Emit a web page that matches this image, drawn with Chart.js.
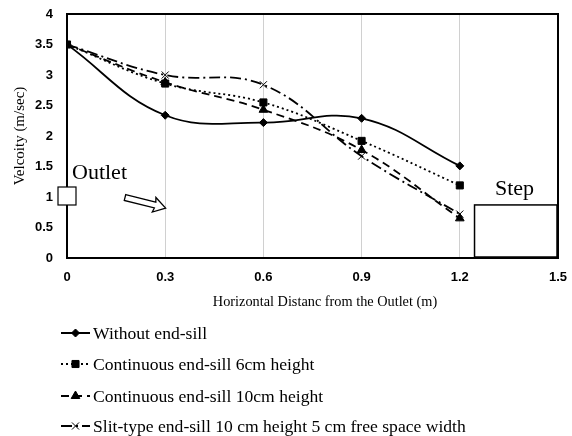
<!DOCTYPE html>
<html>
<head>
<meta charset="utf-8">
<script src="https://cdn.jsdelivr.net/npm/chart.js@4/dist/chart.umd.min.js"></script>
<style>
html,body{margin:0;padding:0;background:#fff;}
#wrap{width:572px;height:436px;position:relative;}
</style>
</head>
<body>
<div id="wrap"><canvas id="c" width="572" height="436"></canvas></div>
<script>
// ---- data ----
const xValues = [0, 0.3, 0.6, 0.9, 1.2];
const xTicks = [0, 0.3, 0.6, 0.9, 1.2, 1.5];
const yTicks = [0, 0.5, 1, 1.5, 2, 2.5, 3, 3.5, 4];
const withoutSill = [3.5, 2.34, 2.22, 2.29, 1.51];
const cont6cm = [3.5, 2.86, 2.55, 1.92, 1.19];
const cont10cm = [3.5, 2.88, 2.43, 1.77, 0.65];
const slit10cm = [3.5, 3.0, 2.84, 1.67, 0.72];
const seriesNames = [
  'Without end-sill',
  'Continuous end-sill 6cm height',
  'Continuous end-sill 10cm height',
  'Slit-type end-sill 10 cm height 5 cm free space width'
];
const xTitle = 'Horizontal Distanc from the Outlet (m)';
const yTitle = 'Velcoity (m/sec)';

const pts = arr => arr.map((v, i) => ({x: xValues[i], y: v}));

const serif = '"Liberation Serif", "Times New Roman", serif';
const sans = '"Liberation Sans", Arial, sans-serif';

const datasets = [
  {label: seriesNames[0], data: pts(withoutSill), borderDash: [], pointStyle: 'rectRot', pointRadius: 4, backgroundColor: '#000'},
  {label: seriesNames[1], data: pts(cont6cm), borderDash: [2, 3], pointStyle: 'rect', pointRadius: 5, backgroundColor: '#000'},
  {label: seriesNames[2], data: pts(cont10cm), borderDash: [8, 5], pointStyle: 'triangle', pointRadius: 5, backgroundColor: '#000'},
  {label: seriesNames[3], data: pts(slit10cm), borderDash: [11, 4, 2, 4], pointStyle: 'crossRot', pointRadius: 5, backgroundColor: '#000'}
].map(d => Object.assign({
  borderColor: '#000', borderWidth: 1.8, tension: 0.4, pointBorderColor: '#000', pointBorderWidth: 1, fill: false
}, d));

const decor = {
  id: 'decor',
  afterDraw(chart) {
    const {ctx, chartArea: a, scales: {x, y}} = chart;
    ctx.save();
    // frame
    ctx.strokeStyle = '#000';
    ctx.lineWidth = 2;
    ctx.strokeRect(a.left, a.top, a.right - a.left, a.bottom - a.top);

    // axis titles
    ctx.fillStyle = '#000';
    ctx.font = '14.3px ' + serif;
    ctx.textAlign = 'center';
    ctx.textBaseline = 'middle';
    ctx.fillText(xTitle, 325, 302);
    ctx.save();
    ctx.translate(20, 136);
    ctx.rotate(-Math.PI / 2);
    ctx.font = '15px ' + serif;
    ctx.fillText(yTitle, 0, 0);
    ctx.restore();

    // outlet square
    const ox = x.getPixelForValue(0), oy = y.getPixelForValue(1);
    ctx.lineWidth = 1.2;
    ctx.fillStyle = '#fff';
    ctx.fillRect(ox - 9, oy - 10, 18, 18);
    ctx.strokeRect(ox - 9, oy - 10, 18, 18);
    ctx.fillStyle = '#000';
    ctx.font = '22px ' + serif;
    ctx.textAlign = 'left';
    ctx.textBaseline = 'alphabetic';
    ctx.fillText('Outlet', 72, 179);

    // arrow
    ctx.save();
    ctx.translate(125, 197.5);
    ctx.rotate(Math.atan2(10, 40));
    ctx.beginPath();
    ctx.moveTo(0, -3);
    ctx.lineTo(31, -3);
    ctx.lineTo(30, -7.5);
    ctx.lineTo(42, 0.5);
    ctx.lineTo(30, 7.5);
    ctx.lineTo(31, 3);
    ctx.lineTo(0, 3);
    ctx.closePath();
    ctx.fillStyle = '#fff';
    ctx.fill();
    ctx.lineWidth = 1.3;
    ctx.stroke();
    ctx.restore();

    // step
    const sx = x.getPixelForValue(1.245), sy = y.getPixelForValue(0.87);
    ctx.lineWidth = 1.5;
    ctx.strokeRect(sx, sy, a.right - sx - 1, a.bottom - sy - 1);
    ctx.fillStyle = '#000';
    ctx.font = '22px ' + serif;
    ctx.fillText('Step', 495, 195);

    // legend
    const rows = [333, 364, 396, 426];
    chart.data.datasets.forEach((ds, i) => {
      const yy = rows[i];
      ctx.strokeStyle = '#000';
      ctx.lineWidth = 2;
      ctx.setLineDash(ds.borderDash);
      ctx.beginPath();
      ctx.moveTo(61, yy);
      ctx.lineTo(90, yy);
      ctx.stroke();
      ctx.setLineDash([]);
      const opts = {pointStyle: ds.pointStyle, radius: ds.pointRadius, rotation: 0, borderWidth: 1};
      ctx.fillStyle = '#000';
      ctx.lineWidth = 1;
      if (Chart.helpers && Chart.helpers.drawPoint) {
        Chart.helpers.drawPoint(ctx, opts, 75.5, yy);
      }
      ctx.fillStyle = '#000';
      ctx.font = '17.6px ' + serif;
      ctx.textAlign = 'left';
      ctx.textBaseline = 'middle';
      ctx.fillText(ds.label, 93, yy + 1);
    });
    ctx.restore();
  }
};

new Chart(document.getElementById('c'), {
  type: 'line',
  data: {datasets},
  options: {
    responsive: false,
    animation: false,
    layout: {padding: {left: 0, right: 14, top: 14, bottom: 138}},
    plugins: {legend: {display: false}, tooltip: {enabled: false}},
    scales: {
      x: {
        type: 'linear', min: 0, max: 1.5,
        afterBuildTicks: s => { s.ticks = xTicks.map(v => ({value: v})); },
        afterFit: s => { s.height = 40; s.paddingLeft = 0; s.paddingRight = 0; },
        grid: {display: true, color: '#d0d0d0', lineWidth: 1, drawTicks: false},
        border: {display: true, color: '#000', width: 2},
        ticks: {
          padding: 12, color: '#000',
          font: {family: sans, size: 13, weight: 'bold'},
          callback: v => String(+v.toFixed(1))
        }
      },
      y: {
        type: 'linear', min: 0, max: 4,
        afterBuildTicks: s => { s.ticks = yTicks.map(v => ({value: v})); },
        afterFit: s => { s.width = 67; s.paddingTop = 0; s.paddingBottom = 0; },
        grid: {display: false, drawTicks: false},
        border: {display: true, color: '#000', width: 2},
        ticks: {
          padding: 14, color: '#000',
          font: {family: sans, size: 13, weight: 'bold'},
          callback: v => String(v)
        }
      }
    }
  },
  plugins: [decor]
});
</script>
</body>
</html>
